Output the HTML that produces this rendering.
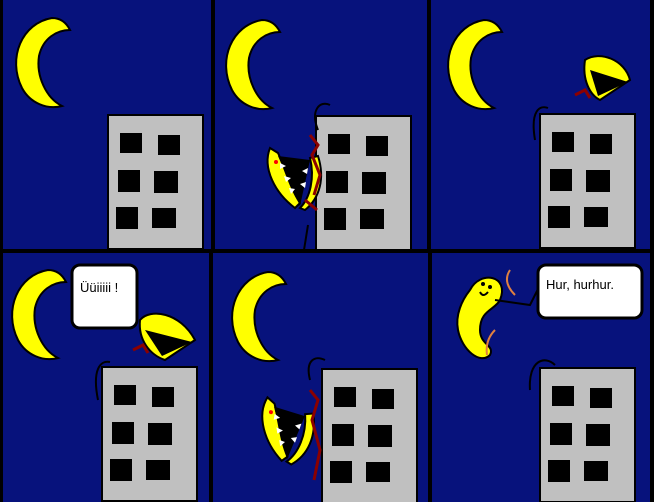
<!DOCTYPE html>
<html><head><meta charset="utf-8"><style>
html,body{margin:0;padding:0;background:#000}
svg{display:block}
text{font-family:"Liberation Sans",sans-serif;font-size:13px;fill:#000}
</style></head><body>
<svg width="654" height="502" viewBox="0 0 654 502">
<defs>
<g id="moon"><path d="M40,0 C10,5 -5,40 10,70 C18,85 35,92 50,88 C34,80 24,58 27,38 C31,20 45,12 58,12 C54,4 48,0 40,0 Z" fill="#ffff00" stroke="#000" stroke-width="2"/></g>
<g id="bldg">
<rect x="0" y="0" width="95" height="134" fill="#c0c0c0" stroke="#000" stroke-width="2"/>
<rect x="12" y="18" width="22" height="20" fill="#000"/><rect x="50" y="20" width="22" height="20" fill="#000"/>
<rect x="10" y="55" width="22" height="22" fill="#000"/><rect x="46" y="56" width="24" height="22" fill="#000"/>
<rect x="8" y="92" width="22" height="22" fill="#000"/><rect x="44" y="93" width="24" height="20" fill="#000"/>
</g>
<g id="monster">
<path d="M0,0 C-8,20 5,45 25,60 L30,55 C20,40 15,20 8,5 Z" fill="#ffff00" stroke="#000" stroke-width="2"/>
<path d="M40,10 C45,30 40,50 30,60 L35,62 C50,50 55,30 48,8 Z" fill="#ffff00" stroke="#000" stroke-width="2"/>
<path d="M8,8 L40,12 L30,58 Z" fill="#000"/>
<path d="M10,15 l6,3 -6,3 Z M14,28 l7,2 -5,4 Z M19,40 l6,1 -4,5 Z M38,20 l-6,3 5,3 Z M36,34 l-6,2 5,4 Z" fill="#fff"/>
<circle cx="6" cy="14" r="2" fill="#f00"/>
</g>
</defs>
<rect width="654" height="502" fill="#07127c"/>
<!-- panel 1 -->
<use href="#moon" x="12" y="18"/>
<use href="#bldg" x="108" y="115"/>
<!-- panel 2 -->
<use href="#moon" x="222" y="20"/>
<use href="#bldg" x="316" y="116"/>
<path d="M304,250 L308,225 M318,130 C310,110 320,100 330,105" stroke="#000" fill="none" stroke-width="2"/>
<use href="#monster" x="270" y="148"/>
<path d="M310,135 l8,10 -6,10 8,20 -6,20 M305,200 l12,10" stroke="#8b0000" stroke-width="3" fill="none"/>
<!-- panel 3 -->
<use href="#moon" x="444" y="20"/>
<use href="#bldg" x="540" y="114"/>
<path d="M535,140 C530,110 540,105 548,108" stroke="#000" fill="none" stroke-width="2"/>
<path d="M585,60 C600,50 625,60 630,80 L600,100 C590,95 582,80 585,60 Z" fill="#ffff00" stroke="#000" stroke-width="2"/>
<path d="M590,70 L628,82 L598,96 Z" fill="#000"/>
<path d="M575,95 l10,-5 5,8" stroke="#8b0000" stroke-width="3" fill="none"/>
<!-- panel 4 -->
<use href="#moon" x="8" y="270"/>
<use href="#bldg" x="102" y="367"/>
<path d="M98,400 C92,370 100,360 110,362" stroke="#000" fill="none" stroke-width="2"/>
<path d="M140,320 C150,308 180,312 195,340 L165,360 C150,355 138,340 140,320 Z" fill="#ffff00" stroke="#000" stroke-width="2"/>
<path d="M145,330 L192,342 L162,356 Z" fill="#000"/>
<path d="M133,350 l10,-5 5,8" stroke="#8b0000" stroke-width="3" fill="none"/>
<rect x="72" y="265" width="65" height="63" rx="8" fill="#fff" stroke="#000" stroke-width="3"/>
<text x="80" y="292">Üüiiiii !</text>
<!-- panel 5 -->
<use href="#moon" x="228" y="272"/>
<use href="#bldg" x="322" y="369"/>
<path d="M310,380 C305,360 315,355 325,360" stroke="#000" fill="none" stroke-width="2"/>
<use href="#monster" x="262" y="400" transform="rotate(10 280 430)"/>
<path d="M310,390 l8,10 -6,20 8,30 -6,30" stroke="#8b0000" stroke-width="3" fill="none"/>
<!-- panel 6 -->
<path d="M470,290 C480,270 510,275 500,300 C495,310 480,310 480,330 C480,345 495,345 490,355 C480,365 462,350 458,330 C455,315 462,300 470,290 Z" fill="#ffff00" stroke="#000" stroke-width="2"/>
<circle cx="483" cy="284" r="2" fill="#000"/><circle cx="490" cy="287" r="2" fill="#000"/>
<path d="M480,292 q3,6 8,0" stroke="#000" fill="none" stroke-width="2"/>
<path d="M510,270 q-8,12 5,25 M495,330 q-10,10 -8,25" stroke="#e08040" stroke-width="2" fill="none"/>
<path d="M495,300 L530,305 L540,285" stroke="#000" fill="none" stroke-width="2"/>
<use href="#bldg" x="540" y="368"/>
<path d="M530,390 C528,360 545,355 555,365" stroke="#000" fill="none" stroke-width="2"/>
<rect x="538" y="265" width="104" height="53" rx="8" fill="#fff" stroke="#000" stroke-width="3"/>
<text x="546" y="289">Hur, hurhur.</text>
<!-- panel borders -->
<g stroke="#000" stroke-width="4">
<line x1="0" y1="251" x2="654" y2="251"/>
<line x1="213" y1="0" x2="213" y2="251"/><line x1="429" y1="0" x2="429" y2="251"/>
<line x1="211" y1="251" x2="211" y2="502"/><line x1="430" y1="251" x2="430" y2="502"/>
<line x1="1" y1="0" x2="1" y2="502"/><line x1="652" y1="0" x2="652" y2="502"/>
</g>
</svg>
</body></html>
